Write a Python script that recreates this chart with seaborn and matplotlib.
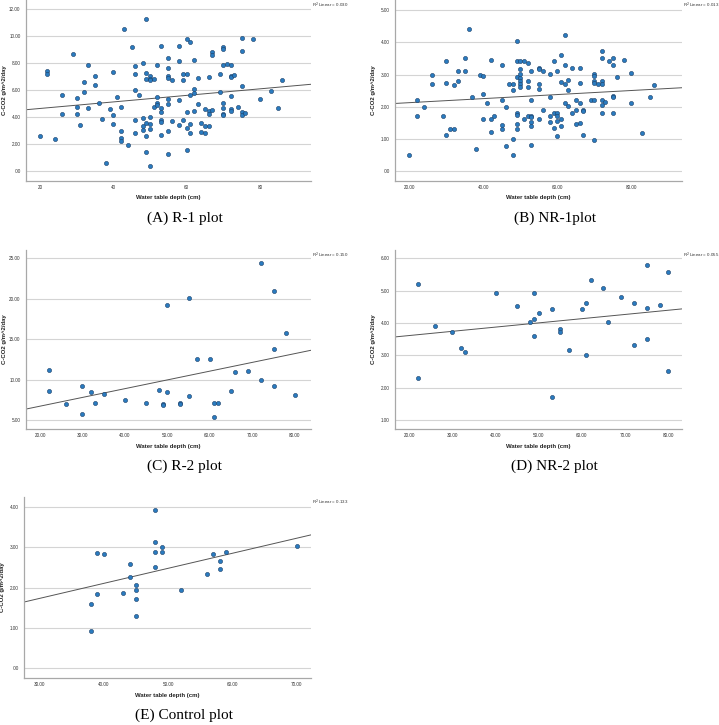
import matplotlib
matplotlib.use('Agg')
import matplotlib.pyplot as plt
import seaborn as sns
import numpy as np

# ---- data (water table depth vs C-CO2 flux) ----
r1_depth = [20, 24, 22, 22, 26, 26, 29, 30, 30, 30, 31, 32, 32, 33, 33, 35, 35, 36, 37, 38,
            39, 40, 40, 40, 41, 42, 42, 42, 42, 43, 44, 45,
            46, 46, 46, 46, 46, 47, 48, 48, 48, 48,
            49, 49, 49, 49, 49, 49,
            50, 50, 50, 50, 50, 50, 50, 51, 51, 52, 52, 52, 52,
            53, 53, 53, 53, 53, 53,
            55, 55, 55, 55, 55, 55, 55, 55, 56, 56, 58, 58, 58, 58, 59, 59, 59,
            60, 60, 60, 60, 60, 61, 61, 61, 61, 62, 62, 62, 62, 63, 63, 64, 64,
            65, 65, 65, 66, 66, 66, 66, 67, 67, 67, 69, 69,
            70, 70, 70, 70, 70, 70, 70, 71, 72, 72, 72, 72, 72, 72, 73, 74,
            75, 75, 75, 75, 75, 76, 78, 80, 83, 85, 86]
r1_flux = [2.60, 2.37, 7.43, 7.21, 5.65, 4.25, 8.69, 5.46, 4.79, 4.27, 3.43, 6.59, 5.88, 7.88, 4.69, 7.09, 6.37, 5.09, 3.90, 0.62,
           4.64, 7.38, 4.17, 3.50, 5.48, 4.79, 3.00, 2.44, 2.27, 10.57, 1.98, 9.21,
           7.80, 7.19, 6.00, 3.80, 2.86, 5.65, 8.00, 3.98, 3.38, 3.06,
           11.28, 7.26, 6.86, 3.60, 2.59, 1.46,
           7.06, 6.86, 6.77, 4.00, 3.48, 3.14, 0.42, 6.86, 4.79, 7.88, 5.53, 5.09, 4.94,
           9.28, 4.67, 4.40, 3.80, 3.63, 2.67,
           8.40, 7.63, 7.06, 6.94, 5.38, 4.99, 2.99, 1.31, 6.77, 3.70, 9.28, 8.20, 5.28, 3.41, 7.19, 6.79, 3.83,
           9.78, 7.19, 4.40, 3.19, 1.60, 9.56, 5.68, 3.48, 2.81, 8.27, 6.07, 5.78, 4.49, 6.94, 4.99, 3.58, 2.89,
           4.59, 3.36, 2.84, 6.96, 4.47, 4.27, 3.36, 8.81, 8.59, 4.54, 7.19, 5.85,
           9.18, 9.06, 7.88, 5.09, 4.69, 4.22, 4.15, 7.95, 7.88, 7.09, 6.96, 5.58, 4.59, 4.49, 7.14, 4.79,
           9.88, 8.89, 6.30, 4.40, 4.17, 4.35, 9.83, 5.36, 5.98, 4.69, 6.74]

nr1_depth = [20, 22, 22, 24, 26, 26, 29, 30, 30, 30, 31, 32, 32, 33, 33, 35, 35, 36, 37, 38, 39,
             40, 40, 40, 41, 42, 42, 42, 43, 45, 45, 45, 45, 46, 46, 47, 48, 48, 48, 48,
             49, 49, 49, 49, 49, 49, 49, 50, 50, 50, 50, 50, 50, 50, 51, 51, 52, 52, 52, 52,
             53, 53, 53, 53, 53, 53, 53, 55, 55, 55, 55, 55, 56, 56, 58, 58, 58, 58, 59, 59, 59,
             60, 60, 60, 60, 60, 61, 61, 61, 61, 62, 62, 62, 62, 63, 63, 63, 64, 64,
             65, 65, 65, 66, 66, 66, 66, 67, 67, 67, 69, 70, 70, 70, 70, 70, 70, 71,
             72, 72, 72, 72, 72, 72, 72, 73, 74, 75, 75, 75, 75, 75, 76, 78, 80, 80, 83, 85, 86]
nr1_flux = [0.50, 2.21, 1.70, 1.98, 3.00, 2.71, 1.70, 3.41, 2.75, 1.13, 1.30, 1.30, 2.67, 3.11, 2.81, 3.51, 3.11, 4.41, 2.30, 0.69, 3.00,
            2.96, 2.39, 1.61, 2.11, 3.44, 1.61, 1.21, 1.71, 3.31, 2.22, 1.45, 1.30, 2.00, 0.79, 2.71, 2.71, 2.51, 0.99, 0.50,
            4.03, 3.41, 2.91, 1.80, 1.74, 1.48, 1.30, 3.41, 3.17, 3.02, 2.90, 2.81, 2.72, 2.60, 3.41, 1.61, 3.37, 2.81, 2.60, 1.70,
            3.11, 2.21, 1.70, 1.67, 1.52, 1.40, 0.81, 3.21, 3.17, 2.71, 2.55, 1.61, 3.11, 1.91, 3.02, 2.30, 1.70, 1.53, 3.41, 1.80, 1.33,
            3.11, 1.80, 1.70, 1.57, 1.11, 3.61, 2.77, 1.61, 1.40, 4.21, 3.31, 2.71, 2.13, 2.83, 2.51, 2.02, 3.21, 1.80,
            2.21, 1.91, 1.47, 3.21, 2.75, 2.11, 1.51, 1.90, 1.86, 1.13, 2.21, 2.21, 3.02, 2.95, 2.80, 2.75, 0.96, 2.71,
            3.72, 3.51, 2.81, 2.71, 2.21, 2.07, 1.81, 2.15, 3.41, 3.51, 3.31, 2.35, 2.30, 1.81, 2.93, 3.46, 3.05, 2.11, 1.20, 2.30, 2.69]

r2_depth = [22, 22, 26, 30, 30, 32, 33, 35, 40, 45, 48, 49, 49, 50, 50, 53, 53, 55, 55,
            57, 60, 61, 61, 62, 65, 66, 69, 72, 72, 75, 75, 75, 78, 80]
r2_flux = [11.16, 8.64, 6.98, 9.21, 5.74, 8.43, 7.15, 8.18, 7.44, 7.15, 8.76, 6.98, 6.90, 19.21, 8.51, 7.15, 6.98, 20.08, 7.93,
           12.52, 12.52, 7.07, 5.41, 7.07, 8.60, 10.99, 11.07, 24.42, 9.96, 20.99, 13.84, 9.26, 15.74, 8.14]

nr2_depth = [22, 22, 26, 30, 32, 33, 40, 45, 48, 49, 49, 49, 50, 53, 53, 55, 55,
             57, 60, 61, 61, 62, 65, 66, 69, 72, 72, 75, 75, 75, 78, 80, 80]
nr2_flux = [5.21, 2.31, 3.91, 3.71, 3.22, 3.11, 4.92, 4.52, 4.02, 4.92, 4.11, 3.61, 4.32, 4.42, 1.71, 3.81, 3.71,
            3.16, 4.42, 4.61, 3.01, 5.34, 5.07, 4.04, 4.80, 4.61, 3.31, 5.81, 4.47, 3.52, 4.55, 5.57, 2.51]

ctrl_depth = [38, 38, 39, 39, 40, 43, 44, 44, 45, 45, 45, 45, 48, 48, 48, 48, 49, 49, 52, 56, 57, 58, 58, 59, 70]
ctrl_flux = [1.59, 0.92, 2.85, 1.83, 2.83, 1.86, 2.59, 2.26, 2.06, 1.95, 1.71, 1.30, 3.93, 3.13, 2.89, 2.50,
             3.01, 2.88, 1.93, 2.33, 2.83, 2.66, 2.45, 2.89, 3.02]

captions = ['(A) R-1 plot', '(B) NR-1plot', '(C) R-2 plot', '(D) NR-2 plot', '(E) Control plot']
r2_labels = ['0.030', '0.013', '0.150', '0.055', '0.133']

Y_LABEL = 'C-CO2 g/m^2/day'
X_LABEL = 'Water table depth (cm)'

sns.set_theme(style='white')
plt.rcParams['font.family'] = ['Liberation Sans', 'DejaVu Sans']

W, H = 719, 725
fig = plt.figure(figsize=(W / 100, H / 100), dpi=100)

POINT = '#2a7bbf'
EDGE = '#1d3f66'
GRID = '#d4d4d4'
SPINE = '#a8a8a8'


def fmt(v, decimals):
    s = f'{v:.{decimals}f}'
    if s.startswith('0.'):
        s = s[1:]
    return s


def panel(x, y, box, xlim, ylim, xticks, yticks, xdec, caption, r2):
    left, top, right, bottom = box
    ax = fig.add_axes([left / W, 1 - bottom / H, (right - left) / W, (bottom - top) / H])
    # limits first so the fitted line spans the whole axis (truncate=False)
    ax.set_xlim(*xlim)
    ax.set_ylim(*ylim)
    sns.regplot(x=np.array(x, float), y=np.array(y, float), ax=ax, ci=None, truncate=False,
                scatter_kws=dict(s=9, color=POINT, edgecolor=EDGE, linewidths=0.4, alpha=1, zorder=3),
                line_kws=dict(color='#555555', linewidth=0.7, zorder=2))
    ax.set_xlim(*xlim)
    ax.set_ylim(*ylim)
    ax.set_xticks(xticks)
    ax.set_xticklabels([fmt(v, xdec) for v in xticks])
    ax.set_yticks(yticks)
    ax.set_yticklabels([fmt(v, 2) for v in yticks])
    ax.tick_params(length=0, labelsize=3.3, colors='#333333')
    ax.tick_params(axis='y', pad=4)
    ax.tick_params(axis='x', pad=3)
    ax.yaxis.grid(True, color=GRID, linewidth=0.8)
    ax.xaxis.grid(False)
    ax.set_axisbelow(True)
    for side in ['top', 'right']:
        ax.spines[side].set_visible(False)
    for side in ['left', 'bottom']:
        ax.spines[side].set_color(SPINE)
        ax.spines[side].set_linewidth(0.9)
    ax.set_xlabel('')
    ax.set_ylabel('')

    cx = (left + right) / 2
    fig.text((left - 21) / W, 1 - ((top + bottom) / 2) / H, Y_LABEL, rotation=90,
             ha='center', va='center', fontsize=4.3, fontweight='bold', color='#222222')
    fig.text(cx / W, 1 - (bottom + 17) / H, X_LABEL, ha='center', va='center',
             fontsize=4.3, fontweight='bold', color='#222222')
    fig.text((cx + 16) / W, 1 - (bottom + 37) / H, caption, ha='center', va='center',
             fontsize=11, family='Liberation Serif', color='black')
    fig.text((right + 1) / W, 1 - (top + 5) / H, 'R$^2$ Linear = ' + r2, ha='left', va='center',
             fontsize=3.2, color='#333333')
    return ax


panel(r1_depth, r1_flux, (26, 0, 311, 181), (16.2, 93.9), (-0.72, 12.70),
      [20, 40, 60, 80], [0, 2, 4, 6, 8, 10, 12], 0, captions[0], r2_labels[0])
panel(nr1_depth, nr1_flux, (395, 0, 682, 181), (16.1, 93.7), (-0.30, 5.31),
      [20, 40, 60, 80], [0, 1, 2, 3, 4, 5], 2, captions[1], r2_labels[1])
panel(r2_depth, r2_flux, (26, 250, 311, 429), (16.7, 83.8), (3.89, 26.03),
      [20, 30, 40, 50, 60, 70, 80], [5, 10, 15, 20, 25], 2, captions[2], r2_labels[2])
panel(nr2_depth, nr2_flux, (395, 250, 682, 429), (16.7, 83.2), (0.72, 6.26),
      [20, 30, 40, 50, 60, 70, 80], [1, 2, 3, 4, 5, 6], 2, captions[3], r2_labels[3])
panel(ctrl_depth, ctrl_flux, (24, 497, 311, 678), (27.6, 72.2), (-0.24, 4.24),
      [30, 40, 50, 60, 70], [0, 1, 2, 3, 4], 2, captions[4], r2_labels[4])

fig.savefig('out.png', dpi=100)
